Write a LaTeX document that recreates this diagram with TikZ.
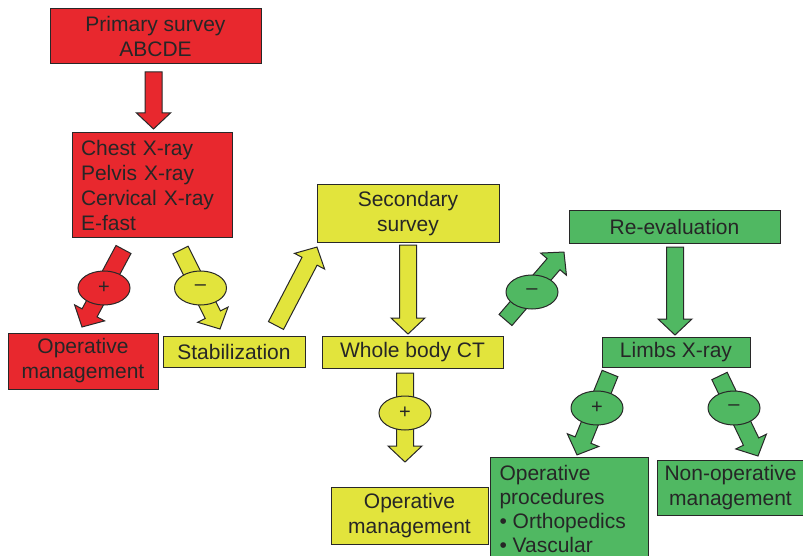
\documentclass[tikz,border=0pt]{standalone}
\usepackage{fontspec}
\setmainfont{Liberation Sans}
\usetikzlibrary{calc,shapes.geometric}
\definecolor{cred}{RGB}{232,40,46}
\definecolor{cyel}{RGB}{226,228,60}
\definecolor{cgrn}{RGB}{80,184,98}
\definecolor{cline}{RGB}{40,40,40}
\tikzset{
  box/.style={draw=cline, line width=1pt, inner sep=0pt, align=center,
    font=\fontsize{21}{25}\selectfont, text=black!85},
  blk/.style={draw=cline, line width=1pt, line join=miter},
  ell/.style={ellipse, draw=cline, line width=1pt, minimum width=52pt, minimum height=34pt,
    inner sep=0pt, font=\fontsize{20}{20}\selectfont, text=black!85},
}
\newcommand\barrow[3]{%
  \path let \p1=(#2), \p2=(#3) in \pgfextra{%
    \pgfmathsetmacro\baang{atan2(\y2-\y1,\x2-\x1)}%
    \pgfmathsetmacro\balen{veclen(\x2-\x1,\y2-\y1)}%
    \xdef\bax{\x1}\xdef\bay{\y1}\xdef\baA{\baang}\xdef\baL{\balen}};
  \draw[blk, fill=#1, shift={(\bax,\bay)}, rotate=\baA]
    (0,-8.5) -- (\baL-16,-8.5) -- (\baL-16,-17) -- (\baL,0) -- (\baL-16,17)
    -- (\baL-16,8.5) -- (0,8.5) -- cycle;
}
\begin{document}
\begin{tikzpicture}[x=1pt,y=-1pt]
\useasboundingbox (0,0) rectangle (803,556);
% boxes
\node[box, fill=cred, minimum width=211pt, minimum height=55pt] (prim) at (155.5,36.5) {Primary survey\\ABCDE};
\node[box, fill=cred, minimum width=160pt, minimum height=105pt, text width=142pt, align=left] (chest) at (152,185) {Chest X-ray\\Pelvis X-ray\\Cervical X-ray\\E-fast};
\node[box, fill=cred, minimum width=150pt, minimum height=56pt] (opred) at (83,361) {Operative\\management};
\node[box, fill=cyel, minimum width=142pt, minimum height=31pt] (stab) at (234,351.5) {Stabilization};
\node[box, fill=cyel, minimum width=182pt, minimum height=57pt] (sec) at (408,213.5) {Secondary\\survey};
\node[box, fill=cyel, minimum width=181pt, minimum height=32pt] (wbct) at (412.5,352) {Whole body CT};
\node[box, fill=cyel, minimum width=157pt, minimum height=57pt] (opyel) at (409.5,515.5) {Operative\\management};
\node[box, fill=cgrn, minimum width=211pt, minimum height=32pt] (reev) at (674.5,227) {Re-evaluation};
\node[box, fill=cgrn, minimum width=148pt, minimum height=30pt] (limbs) at (676,352) {Limbs X-ray};
\node[box, fill=cgrn, minimum width=158pt, minimum height=110pt, anchor=north west] (opproc) at (490,457) {};
\node[box, draw=none, align=left, anchor=north west, font=\fontsize{21}{24}\selectfont] (opproctext) at (499,465) {Operative\\procedures\\\textbullet\ Orthopedics\\\textbullet\ Vascular};
\node[box, fill=cgrn, minimum width=146pt, minimum height=55pt] (nonop) at (730.5,487.5) {Non-operative\\management};
% arrow end points
\coordinate (a1t) at (153.5,72);  \coordinate (a1h) at (153.5,129);
\coordinate (a2t) at (123.5,249.5); \coordinate (a2h) at (82,327);
\coordinate (a3t) at (180.5,250); \coordinate (a3h) at (220,329);
\coordinate (a4t) at (276,325.5); \coordinate (a4h) at (317,247);
\coordinate (a5t) at (408,245);  \coordinate (a5h) at (408,334);
\coordinate (a6t) at (405,373);  \coordinate (a6h) at (405,462);
\coordinate (a7t) at (505.5,320); \coordinate (a7h) at (564,252);
\coordinate (a8t) at (675,247);  \coordinate (a8h) at (675,335);
\coordinate (a9t) at (610,373.5); \coordinate (a9h) at (577,455);
\coordinate (a10t) at (719.5,376); \coordinate (a10h) at (758,456);
\barrow{cred}{a1t}{a1h}
\barrow{cred}{a2t}{a2h}
\barrow{cyel}{a3t}{a3h}
\barrow{cyel}{a4t}{a4h}
\barrow{cyel}{a5t}{a5h}
\barrow{cyel}{a6t}{a6h}
\barrow{cgrn}{a7t}{a7h}
\barrow{cgrn}{a8t}{a8h}
\barrow{cgrn}{a9t}{a9h}
\barrow{cgrn}{a10t}{a10h}
% ellipses
\node[ell, fill=cred] (e1) at (104,288) {+};
\node[ell, fill=cyel] (e2) at (200.5,288) {--};
\node[ell, fill=cyel] (e3) at (405,413) {+};
\node[ell, fill=cgrn] (e4) at (532,292) {--};
\node[ell, fill=cgrn] (e5) at (597,408) {+};
\node[ell, fill=cgrn] (e6) at (734,408) {--};
\end{tikzpicture}
\end{document}
